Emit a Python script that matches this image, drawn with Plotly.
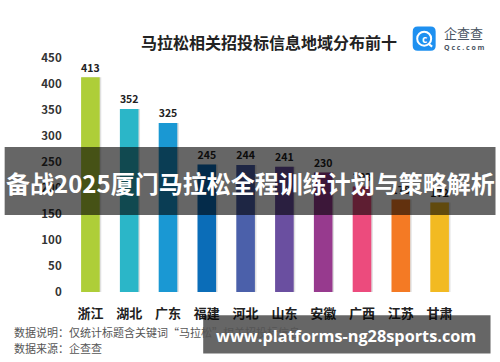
import plotly.graph_objects as go

# ---- data ----
categories = ["浙江", "湖北", "广东", "福建", "河北", "山东", "安徽", "广西", "江苏", "甘肃"]
values = [413, 352, 325, 245, 244, 241, 230, 203, 178, 172]
bar_colors = ["#AECE38", "#2BB6C8", "#1A98D3", "#0B6DB8", "#4B60AA",
              "#6A4FA0", "#973A8E", "#EC4B7D", "#F47A24", "#F2BA22"]
y_ticks = [0, 50, 100, 150, 200, 250, 300, 350, 400, 450]

title_text = "马拉松相关招投标信息地域分布前十"
note1 = "数据说明：仅统计标题含关键词“马拉松”相关招投标信息"
note2 = "数据来源：企查查"
banner_text = "备战2025厦门马拉松全程训练计划与策略解析"
url_text = "www.platforms-ng28sports.com"

W, H = 500, 362
L, R, T, B = 70.5, 459.4, 58.3, 291.7

def px(x):
    return (x - L) / (R - L)

def py(y):
    return (B - y) / (B - T)

FONT = "Noto Sans CJK SC, Open Sans, sans-serif"

fig = go.Figure()
# subtle shadow
fig.add_trace(go.Bar(
    x=categories, y=values, marker=dict(color="rgba(0,0,0,0.12)", line=dict(width=0)),
    width=0.5, offset=-0.22, hoverinfo="skip", showlegend=False,
))
fig.add_trace(go.Bar(
    x=categories, y=values, marker=dict(color=bar_colors, line=dict(width=0)),
    width=0.48, offset=-0.24,
    text=[str(v) for v in values], textposition="outside",
    textfont=dict(family=FONT, size=12, color="#222222", weight="bold"),
    cliponaxis=False, showlegend=False,
))

fig.update_layout(
    width=W, height=H,
    margin=dict(l=L, r=W - R, t=T, b=H - B, pad=0),
    paper_bgcolor="white", plot_bgcolor="white",
    barmode="overlay",
    font=dict(family=FONT),
    xaxis=dict(
        type="category", showgrid=False, zeroline=False, showline=False,
        ticks="outside", ticklen=9, tickcolor="rgba(0,0,0,0)",
        tickfont=dict(family=FONT, size=13, color="#222222", weight="bold"),
        fixedrange=True,
    ),
    yaxis=dict(
        range=[0, 450], tickvals=y_ticks, showgrid=False, zeroline=False, showline=False,
        ticks="outside", ticklen=6, tickcolor="rgba(0,0,0,0)",
        tickfont=dict(family=FONT, size=11.5, color="#333333", weight="bold"),
        fixedrange=True,
    ),
)

shapes = []
annotations = []

# title
annotations.append(dict(
    xref="paper", yref="paper", x=px(268.5), y=py(42), xanchor="center", yanchor="middle",
    text=title_text, showarrow=False,
    font=dict(family=FONT, size=16, color="#222222", weight="bold"),
))

# logo: rounded blue square
def rounded_rect(x0, y0, x1, y1, r):
    p = lambda x, y: f"{px(x):.5f},{py(y):.5f}"
    path = (f"M {p(x0 + r, y0)} L {p(x1 - r, y0)} Q {p(x1, y0)} {p(x1, y0 + r)} "
            f"L {p(x1, y1 - r)} Q {p(x1, y1)} {p(x1 - r, y1)} L {p(x0 + r, y1)} "
            f"Q {p(x0, y1)} {p(x0, y1 - r)} L {p(x0, y0 + r)} Q {p(x0, y0)} {p(x0 + r, y0)} Z")
    return path

shapes.append(dict(type="path", xref="paper", yref="paper",
                   path=rounded_rect(413, 27, 436, 51, 5),
                   fillcolor="#1E90F0", line=dict(width=0)))
shapes.append(dict(type="circle", xref="paper", yref="paper",
                   x0=px(417.5), x1=px(431.5), y0=py(46), y1=py(32),
                   line=dict(color="white", width=2), fillcolor="rgba(0,0,0,0)"))
shapes.append(dict(type="line", xref="paper", yref="paper",
                   x0=px(428.5), x1=px(432.5), y0=py(44), y1=py(47),
                   line=dict(color="white", width=2)))
annotations.append(dict(
    xref="paper", yref="paper", x=px(424.5), y=py(39), xanchor="center", yanchor="middle",
    text="c", showarrow=False, font=dict(family="Open Sans", size=10, color="white", weight="bold"),
))
annotations.append(dict(
    xref="paper", yref="paper", x=px(442), y=py(33), xanchor="left", yanchor="middle",
    text="企查查", showarrow=False, font=dict(family=FONT, size=13, color="#4A5563"),
))
annotations.append(dict(
    xref="paper", yref="paper", x=px(442.5), y=py(47.5), xanchor="left", yanchor="middle",
    text="Q c c . c o m", showarrow=False, font=dict(family="Open Sans", size=7, color="#4A5563", weight="bold"),
))

# footnotes
annotations.append(dict(
    xref="paper", yref="paper", x=px(11), y=py(331.5), xanchor="left", yanchor="middle",
    text=note1, showarrow=False, font=dict(family=FONT, size=11, color="#555555"),
))
annotations.append(dict(
    xref="paper", yref="paper", x=px(11), y=py(347.5), xanchor="left", yanchor="middle",
    text=note2, showarrow=False, font=dict(family=FONT, size=11, color="#555555"),
))

# overlay banner
shapes.append(dict(type="rect", xref="paper", yref="paper",
                   x0=px(4), x1=px(496), y0=py(215), y1=py(147),
                   fillcolor="rgba(0,0,0,0.6)", line=dict(width=0), layer="above"))
annotations.append(dict(
    xref="paper", yref="paper", x=px(250), y=py(182), xanchor="center", yanchor="middle",
    text=banner_text, showarrow=False,
    font=dict(family=FONT, size=24, color="white", weight="bold"),
))

# url banner
shapes.append(dict(type="rect", xref="paper", yref="paper",
                   x0=px(203), x1=px(491), y0=py(353), y1=py(315),
                   fillcolor="rgba(0,0,0,0.6)", line=dict(width=0), layer="above"))
annotations.append(dict(
    xref="paper", yref="paper", x=px(346), y=py(335.5), xanchor="center", yanchor="middle",
    text=url_text, showarrow=False,
    font=dict(family="Open Sans", size=16.3, color="white", weight="bold"),
))

fig.update_layout(shapes=shapes, annotations=annotations)
fig.write_html("out.html", config={"displayModeBar": False},
               post_script="document.body.style.margin='0';document.body.style.overflow='hidden';")
